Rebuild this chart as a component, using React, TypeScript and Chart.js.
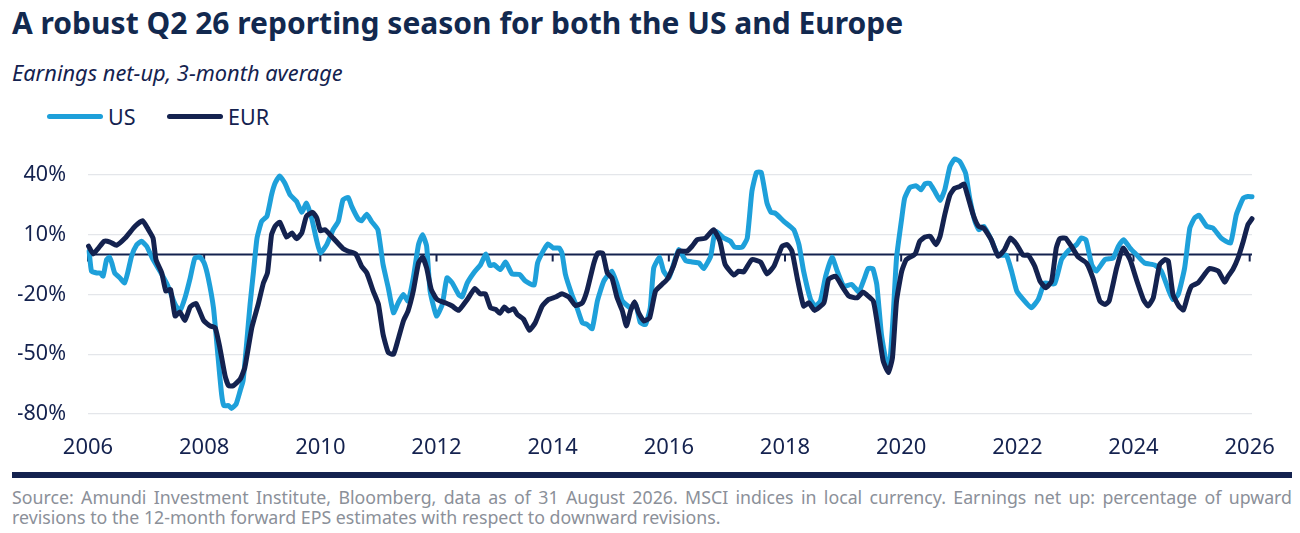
import { Chart, registerables, type Plugin } from 'chart.js';
import { useEffect, useRef } from 'react';

Chart.register(...registerables);

const usDates = [
    2006.02, 2006.06, 2006.15, 2006.21, 2006.26, 2006.32, 2006.37, 2006.41, 2006.46, 2006.55, 2006.63, 2006.69, 2006.75, 2006.84, 2006.92,
    2007.01, 2007.12, 2007.24, 2007.35, 2007.41, 2007.5, 2007.58, 2007.67, 2007.76, 2007.84, 2007.93,
    2008.0, 2008.07, 2008.16, 2008.24, 2008.3, 2008.34, 2008.42, 2008.47, 2008.55, 2008.62, 2008.67, 2008.73, 2008.79, 2008.85, 2008.91, 2008.99,
    2009.08, 2009.16, 2009.22, 2009.3, 2009.39, 2009.48, 2009.59, 2009.68, 2009.76, 2009.85, 2009.94,
    2010.0, 2010.11, 2010.22, 2010.31, 2010.39, 2010.48, 2010.54, 2010.65, 2010.71, 2010.8, 2010.88, 2010.99,
    2011.08, 2011.17, 2011.26, 2011.34, 2011.43, 2011.51, 2011.6, 2011.69, 2011.76, 2011.83, 2011.89,
    2012.0, 2012.1, 2012.18, 2012.27, 2012.38, 2012.44, 2012.53, 2012.64, 2012.76, 2012.85, 2012.92, 2012.99,
    2013.1, 2013.19, 2013.3, 2013.43, 2013.53, 2013.68, 2013.74, 2013.85, 2013.92,
    2014.01, 2014.11, 2014.16, 2014.22, 2014.33, 2014.42, 2014.51, 2014.59, 2014.68, 2014.77, 2014.88,
    2015.02, 2015.11, 2015.2, 2015.34, 2015.43, 2015.51, 2015.6, 2015.68, 2015.74, 2015.84, 2015.91,
    2016.0, 2016.08, 2016.17, 2016.29, 2016.4, 2016.52, 2016.6, 2016.72, 2016.8, 2016.95,
    2017.06, 2017.13, 2017.26, 2017.35, 2017.43, 2017.51, 2017.59, 2017.69, 2017.76, 2017.83, 2017.98,
    2018.15, 2018.24, 2018.32, 2018.44, 2018.52, 2018.61, 2018.7, 2018.81, 2018.9,
    2019.01, 2019.15, 2019.27, 2019.37, 2019.43, 2019.51, 2019.58, 2019.66, 2019.75, 2019.8, 2019.86, 2019.92,
    2020.01, 2020.06, 2020.15, 2020.26, 2020.34, 2020.41, 2020.49, 2020.58, 2020.67, 2020.75, 2020.84, 2020.92,
    2021.01, 2021.11, 2021.18, 2021.27, 2021.34, 2021.42, 2021.55, 2021.67, 2021.81, 2021.9, 2021.99,
    2022.1, 2022.24, 2022.36, 2022.47, 2022.64, 2022.76, 2022.87,
    2023.02, 2023.1, 2023.18, 2023.28, 2023.36, 2023.51, 2023.65, 2023.74, 2023.83, 2023.94,
    2024.05, 2024.19, 2024.37, 2024.48, 2024.6, 2024.68, 2024.77, 2024.88, 2024.97,
    2025.05, 2025.13, 2025.26, 2025.37, 2025.51, 2025.67, 2025.77, 2025.89, 2025.97, 2026.04,
];

const usValues = [
    1.7, -8.3, -9.2, -9.2, -10.8, -2.5, -1.3, -4.2, -9.2, -11.7, -14.2, -8.3, -0.8, 5, 6.7,
    4.2, -2.5, -8.3, -14.2, -18.3, -25, -28.3, -21.7, -11.7, -1.7, -1.3,
    -4.2, -11.7, -26.7, -51.7, -70, -75.8, -75.8, -77.2, -75, -68.3, -63.3, -45, -25, -8.3, 8.3, 16.7,
    19.2, 30, 35.8, 39.5, 35.8, 30, 26.7, 21.2, 25.8, 18.3, 6.7,
    0.8, 5, 12.5, 16.7, 27.5, 28.7, 24.2, 18, 17, 20.3, 16.7, 12.5,
    -5, -16.7, -29.2, -24.2, -20, -23.3, -11.7, 5, 10, 4.2, -18.3,
    -30.8, -25, -11.7, -14.2, -20, -21.2, -14.2, -9.2, -5, 0.3, -5.5, -5,
    -7.5, -3.7, -9.7, -10, -13.3, -15.3, -4.2, 2.5, 5.3,
    3.3, 3.3, 0.8, -10, -20, -26.7, -34.2, -35, -37.2, -23.3, -13.3,
    -8.3, -15, -23.3, -26.7, -25, -34.2, -35, -26.7, -6.7, -1.3, -8.3,
    -11.7, -5, 2.5, -3, -3.7, -4.2, -7, -0.8, 11.7, 8.3,
    6.7, 3.8, 3.7, 8.3, 31.7, 41.3, 41.3, 25.8, 21.2, 20.8, 16.7,
    12.5, 5, -8.3, -22.5, -25.8, -23.3, -10.8, -1.3, -8.3,
    -15.8, -15, -18.7, -11.7, -7, -7, -15, -40, -55, -55.8, -31.7, -1.7,
    18.3, 28.3, 33.7, 34.5, 32.5, 35.5, 35.8, 31.7, 27.2, 32.5, 44.2, 48,
    46.7, 40.8, 28.3, 16.7, 12.5, 14.2, 7.5, -0.3, -0.3, -8.3, -18.3,
    -22.5, -26.7, -22.5, -14.2, -14.7, -2.5, 1.7,
    5, 8.3, 7.5, -5, -8.3, -2.5, -1.7, 4.2, 7.5, 3.3,
    0, -4.2, -5.3, -8.3, -17.5, -22.5, -20, -6.7, 13.3,
    18.3, 19.7, 14.2, 13.3, 8.3, 5.8, 20, 28.3, 29.2, 29,
];

const eurDates = [
    2006.01, 2006.09, 2006.18, 2006.28, 2006.38, 2006.49, 2006.64, 2006.81, 2006.94,
    2007.04, 2007.12, 2007.17, 2007.27, 2007.34, 2007.42, 2007.5, 2007.58, 2007.67, 2007.76, 2007.86, 2007.99,
    2008.1, 2008.19, 2008.27, 2008.36, 2008.42, 2008.5, 2008.62, 2008.7, 2008.82, 2008.93,
    2009.02, 2009.09, 2009.16, 2009.22, 2009.3, 2009.42, 2009.51, 2009.59, 2009.68, 2009.76, 2009.87, 2009.94,
    2010.0, 2010.08, 2010.22, 2010.39, 2010.48, 2010.61, 2010.71, 2010.8, 2010.91,
    2011.0, 2011.08, 2011.17, 2011.26, 2011.34, 2011.43, 2011.51, 2011.6, 2011.69, 2011.76, 2011.83, 2011.91,
    2012.01, 2012.15, 2012.27, 2012.38, 2012.53, 2012.66, 2012.75, 2012.84, 2012.93,
    2013.02, 2013.09, 2013.17, 2013.24, 2013.33, 2013.39, 2013.5, 2013.6, 2013.7, 2013.82, 2013.93,
    2014.05, 2014.16, 2014.28, 2014.39, 2014.51, 2014.59, 2014.71, 2014.78, 2014.86, 2014.94,
    2015.02, 2015.11, 2015.2, 2015.27, 2015.34, 2015.41, 2015.48, 2015.57, 2015.67, 2015.77, 2015.88, 2015.97,
    2016.08, 2016.17, 2016.31, 2016.4, 2016.49, 2016.63, 2016.77, 2016.88, 2016.97,
    2017.12, 2017.2, 2017.29, 2017.43, 2017.58, 2017.69, 2017.81, 2017.95,
    2018.04, 2018.12, 2018.21, 2018.32, 2018.41, 2018.51, 2018.67, 2018.75, 2018.87, 2018.98,
    2019.1, 2019.24, 2019.34, 2019.4, 2019.52, 2019.6, 2019.69, 2019.78, 2019.85, 2019.92,
    2020.01, 2020.09, 2020.24, 2020.32, 2020.41, 2020.5, 2020.6, 2020.67, 2020.75, 2020.84, 2020.92,
    2021.01, 2021.08, 2021.14, 2021.24, 2021.33, 2021.42, 2021.55, 2021.67, 2021.78, 2021.88, 2021.99,
    2022.1, 2022.19, 2022.3, 2022.39, 2022.49, 2022.59, 2022.67, 2022.73, 2022.83, 2022.93,
    2023.05, 2023.19, 2023.3, 2023.42, 2023.51, 2023.58, 2023.71, 2023.82, 2023.94,
    2024.05, 2024.17, 2024.25, 2024.34, 2024.45, 2024.54, 2024.6, 2024.68, 2024.78, 2024.86, 2024.94,
    2025.0, 2025.11, 2025.23, 2025.31, 2025.46, 2025.57, 2025.63, 2025.71, 2025.8, 2025.89, 2025.97, 2026.04,
];

const eurValues = [
    4.2, 0.3, 3.3, 6.7, 6.3, 4.7, 8.3, 14.2, 17,
    12.5, 8.3, -2.5, -9.2, -18.3, -17.5, -30.8, -28.8, -33, -26.2, -24.5, -33,
    -35.8, -36.7, -46.7, -60.8, -65.8, -65.8, -62.5, -56.7, -36.7, -25,
    -14.2, -9.2, 10, 14.2, 16.3, 8.8, 10.8, 8, 10.8, 19.2, 21.2, 18.3,
    12, 12.5, 8.3, 3, 1.7, 0.3, -5.8, -9.2, -18.3,
    -25, -40, -49.2, -50, -42.5, -33.3, -28.3, -18.3, -4.2, -1.3, -6.7, -17.5,
    -22.5, -24.2, -25.8, -28, -22.5, -17, -19.7, -19.7, -26.7,
    -27.5, -29.5, -26.3, -28.3, -27.2, -30, -32.5, -38, -34.2, -25.8, -22.5,
    -21.3, -19.7, -21.3, -25.5, -24.2, -18.3, -4.2, 0.8, 0.8, -9.2,
    -11.7, -21.7, -28.3, -35.8, -28.3, -23.7, -29.2, -33.3, -31.7, -18.3, -15, -12.5,
    -5.8, 1.7, 1.7, 4.2, 7.5, 8.3, 12.5, 6.7, -5,
    -10.3, -8.3, -8.7, -2.5, -3.8, -9.7, -5.8, 4.2,
    5, 1.7, -11.7, -25.8, -24.2, -28, -24.2, -12.5, -10.8, -15.8,
    -20.8, -21.7, -18.8, -20, -23.3, -36.7, -53.3, -59.2, -51.7, -23.3,
    -8.3, -2.5, 0.3, 6.7, 8.8, 9.2, 5, 9.2, 20, 30, 33.3,
    34.2, 35.5, 30, 20, 14.2, 13.3, 7.5, -0.8, 2.5, 8.3, 5,
    -0.3, -0.3, -5.8, -13.3, -16.7, -13.3, 3.3, 8, 8.3, 4.2,
    -1.3, -4.2, -11.7, -23.3, -25, -23.3, -6.7, 3.3, -2.5,
    -12.5, -22.5, -25.8, -21.7, -5, -2.5, -3.3, -20, -25.8, -27.8, -20,
    -15.8, -14.2, -9.7, -7, -8.3, -13.8, -10.8, -7.5, -1.7, 6.7, 15, 18,
];

const NAVY = '#14224f';
const BLUE = '#1ea0da';
const FONT = '"Noto Sans", sans-serif';

// zero line with the small year ticks hanging under it
const zeroAxis: Plugin<'line'> = {
    id: 'zeroAxis',
    beforeDatasetsDraw(chart) {
        const { ctx, scales } = chart;
        const y0 = scales.y.getPixelForValue(0);
        ctx.save();
        ctx.strokeStyle = NAVY;
        ctx.lineWidth = 2;
        ctx.beginPath();
        ctx.moveTo(scales.x.left, y0);
        ctx.lineTo(scales.x.right, y0);
        scales.x.ticks.forEach((tick) => {
            const px = scales.x.getPixelForValue(tick.value);
            ctx.moveTo(px, y0);
            ctx.lineTo(px, y0 + 7);
        });
        ctx.stroke();
        ctx.restore();
    },
};

function EarningsChart() {
    const canvasRef = useRef<HTMLCanvasElement | null>(null);

    useEffect(() => {
        if (!canvasRef.current) {
            return;
        }

        const chart = new Chart(canvasRef.current, {
            type: 'line',
            data: {
                datasets: [
                    {
                        label: 'US',
                        data: usDates.map((x, i) => ({ x, y: usValues[i] })),
                        borderColor: BLUE,
                        backgroundColor: BLUE,
                        order: 2,
                    },
                    {
                        label: 'EUR',
                        data: eurDates.map((x, i) => ({ x, y: eurValues[i] })),
                        borderColor: NAVY,
                        backgroundColor: NAVY,
                        order: 1,
                    },
                ],
            },
            options: {
                responsive: false,
                animation: false,
                layout: { padding: { left: 18, right: 48, top: 33 } },
                datasets: {
                    line: {
                        borderWidth: 5,
                        borderJoinStyle: 'round',
                        borderCapStyle: 'round',
                        pointRadius: 0,
                        tension: 0.15,
                        clip: false,
                    },
                },
                plugins: {
                    legend: { display: false },
                    tooltip: { enabled: false },
                },
                scales: {
                    x: {
                        type: 'linear',
                        min: 2006,
                        max: 2026.04,
                        grid: { display: false },
                        border: { display: false },
                        afterFit: (scale) => {
                            scale.height = 56;
                        },
                        ticks: {
                            stepSize: 2,
                            includeBounds: false,
                            maxRotation: 0,
                            autoSkip: false,
                            padding: 13,
                            color: NAVY,
                            font: { family: FONT, size: 22 },
                            callback: (value) => String(value),
                        },
                    },
                    y: {
                        min: -80,
                        max: 40,
                        border: { display: false },
                        grid: { color: '#e4e6ea', lineWidth: 1.2, drawTicks: false },
                        afterFit: (scale) => {
                            scale.width = 70;
                        },
                        ticks: {
                            stepSize: 30,
                            padding: 22,
                            color: NAVY,
                            font: { family: FONT, size: 21.5 },
                            callback: (value) => `${value}%`,
                        },
                    },
                },
            },
            plugins: [zeroAxis],
        });

        return () => chart.destroy();
    }, []);

    return <canvas ref={canvasRef} width={1300} height={330} style={{ position: 'absolute', left: 0, top: 140, display: 'block' }} />;
}

function LegendItem({ label, color, left }: { label: string; color: string; left: number }) {
    return (
        <div style={{ position: 'absolute', left, top: 101, height: 30, display: 'flex', alignItems: 'center', gap: 5, fontSize: 21.5, color: NAVY }}>
            <span style={{ width: 56, height: 5, borderRadius: 3, background: color }} />
            {label}
        </div>
    );
}

export default function App() {
    return (
        <div style={{ position: 'absolute', left: 0, top: 0, width: 1300, height: 533, overflow: 'hidden', background: '#fff', fontFamily: FONT }}>
            <div style={{ position: 'absolute', left: 12, top: 3, fontSize: 30, lineHeight: '40px', fontWeight: 700, color: '#12294f', whiteSpace: 'nowrap' }}>
                A robust Q2 26 reporting season for both the US and Europe
            </div>
            <div style={{ position: 'absolute', left: 12, top: 59, fontSize: 21.8, lineHeight: '28px', fontStyle: 'italic', color: NAVY, whiteSpace: 'nowrap' }}>
                Earnings net-up, 3-month average
            </div>
            <LegendItem label="US" color={BLUE} left={47} />
            <LegendItem label="EUR" color={NAVY} left={167} />
            <EarningsChart />
            <div style={{ position: 'absolute', left: 12, top: 472, width: 1280, height: 6, background: NAVY }} />
            <div style={{ position: 'absolute', left: 12, top: 487, width: 1280, fontSize: 17.75, lineHeight: '20px', color: '#8b9099' }}>
                <div style={{ textAlign: 'justify', textAlignLast: 'justify' }}>
                    Source: Amundi Investment Institute, Bloomberg, data as of 31 August 2026. MSCI indices in local currency. Earnings net up: percentage of upward
                </div>
                <div>revisions to the 12-month forward EPS estimates with respect to downward revisions.</div>
            </div>
        </div>
    );
}
